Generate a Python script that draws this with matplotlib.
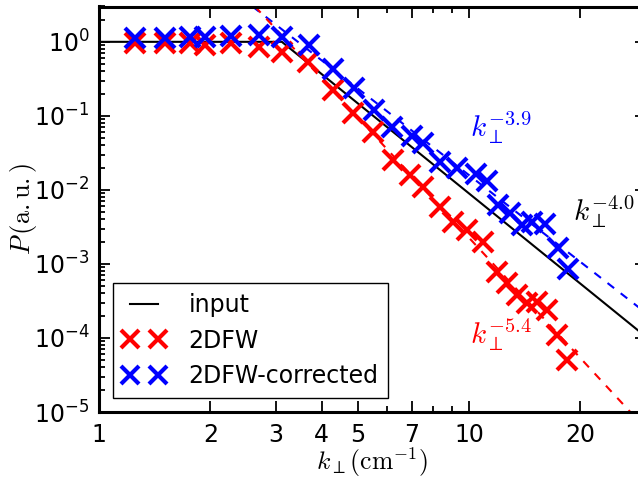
import numpy as np
import matplotlib
matplotlib.use("Agg")
import matplotlib.pyplot as plt
from matplotlib.ticker import FixedLocator, FixedFormatter, LogLocator, LogFormatterMathtext, NullFormatter

plt.rcParams['mathtext.fontset'] = 'cm'
plt.rcParams['font.family'] = ['DejaVu Sans']

k_fw = [1.25, 1.51, 1.76, 1.93, 2.27, 2.71, 3.12, 3.67, 4.29, 4.86, 5.50, 6.23, 6.93,
        7.51, 8.35, 9.05, 9.88, 10.91, 11.90, 12.67, 13.48, 14.35, 15.27, 16.25, 17.29, 18.40]
p_fw = [0.969, 0.969, 0.969, 0.911, 0.969, 0.856, 0.733, 0.537, 0.225, 0.110, 0.0608,
        0.0254, 0.0160, 0.0110, 0.00589, 0.00370, 0.00288, 0.00198, 0.00078, 0.000554,
        0.000381, 0.000297, 0.000306, 0.000239, 0.000110, 0.0000505]

k_corr = [1.25, 1.51, 1.76, 1.93, 2.27, 2.71, 3.12, 3.70, 4.29, 4.89, 5.54, 6.19, 7.02,
          7.51, 8.35, 9.28, 10.45, 11.19, 11.98, 12.91, 13.91, 14.80, 16.05, 17.40, 18.52]
p_corr = [1.13, 1.13, 1.17, 1.17, 1.21, 1.24, 1.17, 0.911, 0.432, 0.239, 0.121, 0.0711,
          0.0537, 0.0432, 0.0239, 0.0198, 0.0164, 0.0132, 0.00627, 0.00489, 0.00337,
          0.00370, 0.00347, 0.00164, 0.000855]

# input spectrum (flat then k^-4)
k_in = [1.0, 3.12, 30.0]
p_in = [1.0, 1.0, 1.05e-4]

# power law fits, endpoints
k_fit_corr = [2.6, 30.0]
p_fit_corr = [3.0, 2.2e-4]
k_fit_fw = [2.64, 30.0]
p_fit_fw = [3.0, 6.0e-6]

xticks = [1, 2, 3, 4, 5, 7, 10, 20]
xminor = [6, 8, 9, 30]

fig = plt.figure(figsize=(6.38, 4.79), dpi=100)
ax = fig.add_axes([99 / 638, (479 - 412) / 479, (645.5 - 99) / 638, (412 - 6.5) / 479])

ax.plot(k_in, p_in, color='k', lw=1.5, label='input')
ax.plot(k_fit_corr, p_fit_corr, color='b', lw=1.5, ls=(0, (4, 4)))
ax.plot(k_fit_fw, p_fit_fw, color='r', lw=1.5, ls=(0, (4, 4)))
ax.plot(k_fw, p_fw, 'x', color='r', ms=14, mew=3, label='2DFW')
ax.plot(k_corr, p_corr, 'x', color='b', ms=14, mew=3, label='2DFW-corrected')

ax.set_xscale('log')
ax.set_yscale('log')
ax.set_xlim(1, 30)
ax.set_ylim(1e-5, 3)

ax.xaxis.set_major_locator(FixedLocator(xticks))
ax.xaxis.set_major_formatter(FixedFormatter([str(t) for t in xticks]))
ax.xaxis.set_minor_locator(FixedLocator(xminor))
ax.xaxis.set_minor_formatter(NullFormatter())
ax.yaxis.set_major_locator(LogLocator(base=10, numticks=10))
ax.yaxis.set_major_formatter(LogFormatterMathtext())
ax.yaxis.set_minor_locator(LogLocator(base=10, subs=np.arange(2, 10), numticks=20))

ax.tick_params(which='both', direction='in', top=True, right=True, labelsize=17, width=1.3)
ax.tick_params(which='major', length=8, pad=7)
ax.tick_params(axis='x', which='major', pad=8)
ax.tick_params(which='minor', length=4)
for s in ax.spines.values():
    s.set_linewidth(2.2)

ax.text(10.07, 0.0686, r'$k_\perp^{-3.9}$', color='b', fontsize=21, va='center', ha='left')
ax.text(19.1, 0.00504, r'$k_\perp^{-4.0}$', color='k', fontsize=21, va='center', ha='left')
ax.text(10.07, 1.1e-4, r'$k_\perp^{-5.4}$', color='r', fontsize=21, va='center', ha='left')

ax.set_xlabel(r'$k_\perp(\mathrm{cm}^{-1})$', fontsize=18.5)
ax.xaxis.set_label_coords(0.5, -0.083)
ax.set_ylabel(r'$P\,(\mathrm{a.u.})$', fontsize=19)
ax.yaxis.set_label_coords(-0.11, 0.5)

leg = ax.legend(loc='lower left', numpoints=2, fontsize=17, fancybox=False, framealpha=1,
                edgecolor='k', handlelength=1.8, handletextpad=1.0, markerscale=0.9,
                borderaxespad=0.6)
leg.get_frame().set_linewidth(1.0)

fig.savefig('out.png', dpi=100)
